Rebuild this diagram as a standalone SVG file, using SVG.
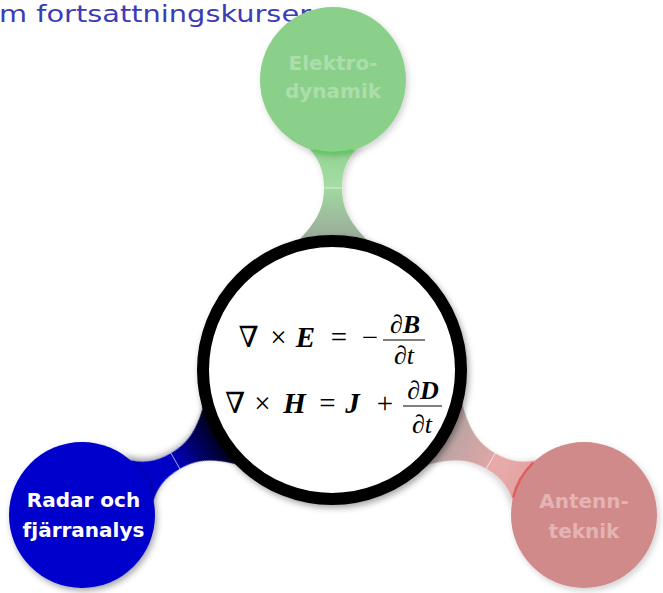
<svg xmlns="http://www.w3.org/2000/svg" width="663" height="593" viewBox="0 0 663 593">
<defs>
<style>
.m{font-family:"Liberation Serif","DejaVu Serif",serif;font-size:29px;fill:#000;text-anchor:middle}
.f{font-size:26px}
.b{font-weight:bold;font-style:italic}
.i{font-style:italic}
.lbl{font-family:"DejaVu Sans","Liberation Sans",sans-serif;font-weight:bold;font-size:20px;text-anchor:middle}
.div{stroke:#ffffff;stroke-width:0.8;stroke-opacity:0.75}
.bar{stroke:#000;stroke-width:1.2}
</style>
<filter id="sh" x="-30%" y="-30%" width="160%" height="160%"><feDropShadow dx="2" dy="3" stdDeviation="3" flood-color="#000" flood-opacity="0.35"/></filter>
<filter id="shl" x="-30%" y="-30%" width="160%" height="160%"><feDropShadow dx="2" dy="3" stdDeviation="3" flood-color="#000" flood-opacity="0.18"/></filter>
<linearGradient id="gG" gradientUnits="userSpaceOnUse" x1="0" y1="-226" x2="0" y2="-126">
<stop offset="0" stop-color="#8fd38f"/><stop offset="0.44" stop-color="#a6dda6"/><stop offset="0.445" stop-color="#a0d8a0"/><stop offset="1" stop-color="#9ba59b"/>
</linearGradient>
<linearGradient id="gB" gradientUnits="userSpaceOnUse" x1="0" y1="-226" x2="0" y2="-126">
<stop offset="0" stop-color="#0000cc"/><stop offset="0.44" stop-color="#0000c4"/><stop offset="0.445" stop-color="#0000b8"/><stop offset="1" stop-color="#000008"/>
</linearGradient>
<linearGradient id="gR" gradientUnits="userSpaceOnUse" x1="0" y1="-226" x2="0" y2="-126">
<stop offset="0" stop-color="#e4a2a2"/><stop offset="0.44" stop-color="#e8acac"/><stop offset="0.445" stop-color="#dea6a6"/><stop offset="1" stop-color="#b3a3a3"/>
</linearGradient>
<path id="conn" d="M -28,-226 C -14,-212 -9,-200 -9,-182 C -9,-160 -18,-146 -38,-126 L 38,-126 C 18,-146 9,-160 9,-182 C 9,-200 14,-212 28,-226 Z"/>
</defs>
<rect width="663" height="593" fill="#ffffff"/>
<text x="-1" y="22" font-family="DejaVu Sans, Liberation Sans, sans-serif" font-size="23" fill="#3c3cb4" textLength="312" lengthAdjust="spacingAndGlyphs">m fortsattningskurser</text>
<g id="connectors">
<g transform="translate(333,370)">
<g filter="url(#shl)"><use href="#conn" fill="url(#gG)"/></g>
<line class="div" x1="-9.5" y1="-182" x2="9.5" y2="-182"/>
</g>
<g transform="translate(333,370) rotate(-120)">
<g filter="url(#sh)"><use href="#conn" fill="url(#gB)"/></g>
<line class="div" x1="-9.5" y1="-182" x2="9.5" y2="-182"/>
</g>
<g transform="translate(333,370) rotate(120)">
<g filter="url(#shl)"><use href="#conn" fill="url(#gR)"/></g>
<line class="div" x1="-9.5" y1="-182" x2="9.5" y2="-182"/>
</g>
</g>
<g id="node-center">
<circle cx="332" cy="370" r="129" fill="#ffffff" stroke="#000" stroke-width="12" filter="url(#sh)"/>
<text class="m" x="248.5" y="347">∇</text>
<text class="m" x="278.5" y="347">×</text>
<text class="m b" x="305.5" y="347">E</text>
<text class="m" x="339" y="347">=</text>
<text class="m" x="370" y="347">−</text>
<text class="m f" x="405" y="333">∂<tspan class="b">B</tspan></text>
<line class="bar" x1="383" y1="340" x2="425" y2="340"/>
<text class="m f" x="404" y="364">∂<tspan class="i">t</tspan></text>
<text class="m" x="235" y="413">∇</text>
<text class="m" x="262.5" y="413">×</text>
<text class="m b" x="294.5" y="413">H</text>
<text class="m" x="327.5" y="413">=</text>
<text class="m b" x="352.5" y="413">J</text>
<text class="m" x="385" y="413">+</text>
<text class="m f" x="423" y="399">∂<tspan class="b">D</tspan></text>
<line class="bar" x1="403" y1="406" x2="442" y2="406"/>
<text class="m f" x="422" y="433">∂<tspan class="i">t</tspan></text>
</g>
<g id="node-elektrodynamik" transform="translate(333,80)">
<circle r="73" fill="#8ad08a" filter="url(#shl)"/>
<path d="M -20,70.2 A 73 73 0 0 0 20,70.2" fill="none" stroke="#5ccf5c" stroke-width="2.5"/>
<text class="lbl" fill="#acdeac" x="0" y="-10">Elektro-</text>
<text class="lbl" fill="#acdeac" x="0" y="18">dynamik</text>
</g>
<g id="node-radar" transform="translate(82,515)">
<circle r="73" fill="#0000cc" filter="url(#sh)"/>
<text class="lbl" fill="#ffffff" x="1.5" y="-8">Radar och</text>
<text class="lbl" fill="#ffffff" x="1.5" y="22">fjärranalys</text>
</g>
<g id="node-antenn" transform="translate(584,515)">
<circle r="73" fill="#d08a8a" filter="url(#shl)"/>
<path transform="rotate(120)" d="M -20,70.2 A 73 73 0 0 0 20,70.2" fill="none" stroke="#e05e5e" stroke-width="2.5"/>
<text class="lbl" fill="#e4b4b4" x="0" y="-7">Antenn-</text>
<text class="lbl" fill="#e4b4b4" x="0" y="23">teknik</text>
</g>
</svg>
